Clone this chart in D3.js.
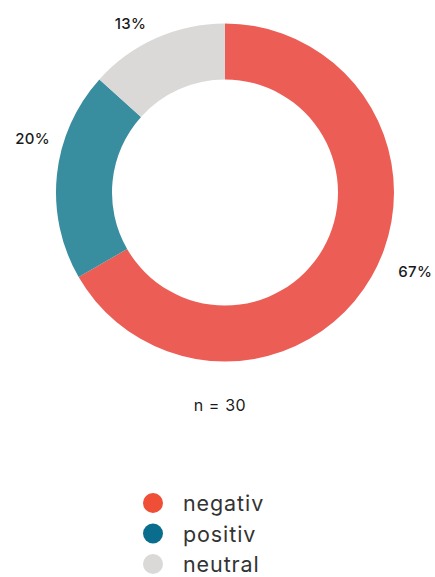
<!DOCTYPE html>
<html><head><meta charset="utf-8">
<script src="https://cdn.jsdelivr.net/npm/d3@7"></script>
<style>body{margin:0;background:#fff}svg{display:block}</style>
</head><body>
<svg id="c" width="435" height="577"></svg>
<script>
const categories = ["negativ", "positiv", "neutral"];
const values = [20, 6, 4];
const sliceColors = ["#EC5E55", "#388D9F", "#DAD9D7"];
const legendColors = ["#EF4E37", "#0B6D8D", "#DAD9D7"];
const nLabel = "n = 30";

const svg = d3.select("#c");
const cx = 225, cy = 192.5, rOuter = 169, rInner = 113;
const total = d3.sum(values);
const pie = d3.pie().sort(null).value(d => d)(values);
const arc = d3.arc().innerRadius(rInner).outerRadius(rOuter);
const g = svg.append("g").attr("transform", `translate(${cx},${cy})`);
g.selectAll("path").data(pie).enter().append("path")
  .attr("d", arc).attr("fill", (d,i) => sliceColors[i]);

// label layout: midpoint angle with small layout nudge
const nudge = [-0.13, 0.17, -0.09];
const lr = [206, 200, 194];
g.selectAll("text.lbl").data(pie).enter().append("text")
  .attr("class","lbl")
  .attr("x", (d,i) => Math.sin((d.startAngle+d.endAngle)/2 + nudge[i]) * lr[i])
  .attr("y", (d,i) => -Math.cos((d.startAngle+d.endAngle)/2 + nudge[i]) * lr[i])
  .attr("text-anchor","middle").attr("dominant-baseline","central")
  .style("font-family","Inter, sans-serif").style("font-size","15px").style("font-weight","500").style("letter-spacing","0.3px").attr("fill","#1a1a1a")
  .text(d => Math.round(d.value/total*100) + "%");

svg.append("text").attr("x", 220).attr("y", 405)
  .attr("text-anchor","middle").attr("dominant-baseline","central")
  .style("font-family","Inter, sans-serif").style("font-size","16px").style("letter-spacing","0.6px").attr("fill","#1a1a1a")
  .text(nLabel);

const y = d3.scalePoint().domain(categories).range([503, 564]);
const lg = svg.append("g");
lg.selectAll("circle").data(categories).enter().append("circle")
  .attr("cx", 153).attr("cy", d => y(d)).attr("r", 10)
  .attr("fill", (d,i) => legendColors[i]);
lg.selectAll("text").data(categories).enter().append("text")
  .attr("x", 183).attr("y", d => y(d)).attr("dominant-baseline","central")
  .style("font-family","Inter, sans-serif").style("font-size","21.5px").style("letter-spacing","0.9px").attr("fill","#333")
  .text(d => d);
</script>
</body></html>
